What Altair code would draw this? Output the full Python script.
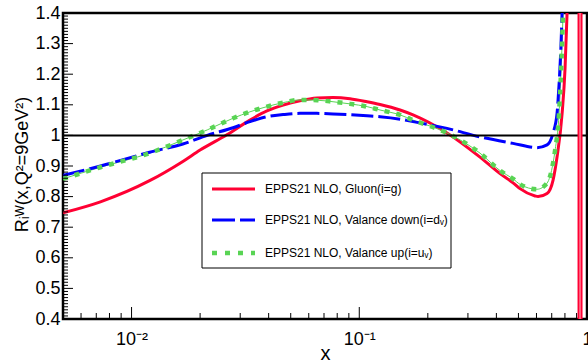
import altair as alt
import pandas as pd

# ---------------- data ----------------
gluon_x = [0.005, 0.0073, 0.012, 0.0168, 0.02, 0.0262, 0.0331, 0.0393, 0.0463, 0.0549,
           0.0652, 0.0767, 0.0911, 0.1082, 0.1234, 0.151, 0.1722, 0.2428, 0.339, 0.415,
           0.4735, 0.508, 0.5913, 0.6096, 0.6677, 0.7096, 0.7389, 0.7772, 0.8011, 0.8175, 0.84]
gluon_r = [0.747, 0.783, 0.852, 0.915, 0.952, 1.002, 1.05, 1.08, 1.099, 1.113,
           1.122, 1.124, 1.12, 1.110, 1.101, 1.083, 1.067, 1.008, 0.929, 0.875,
           0.845, 0.826, 0.802, 0.800, 0.810, 0.854, 0.93, 1.07, 1.22, 1.4, 1.75]
gluon_pole_x = [0.932]

dv_x = [0.005, 0.0073, 0.012, 0.0168, 0.0215, 0.0279, 0.0331, 0.0393, 0.0463, 0.0549,
        0.0652, 0.0767, 0.1082, 0.1234, 0.151, 0.1722, 0.2428, 0.339, 0.4735, 0.6035,
        0.6677, 0.7096, 0.7389, 0.7464, 0.7772, 0.80]
dv_r = [0.869, 0.9, 0.945, 0.972, 1.0, 1.025, 1.045, 1.061, 1.068, 1.072,
        1.072, 1.07, 1.064, 1.061, 1.053, 1.045, 1.023, 0.995, 0.974, 0.96,
        0.969, 1.008, 1.073, 1.116, 1.4, 1.8]

uv_x = [0.005, 0.0073, 0.012, 0.0168, 0.0215, 0.0279, 0.0331, 0.0393, 0.0463, 0.0549,
        0.0652, 0.0767, 0.0911, 0.1082, 0.1234, 0.151, 0.1722, 0.2428, 0.339, 0.415,
        0.4735, 0.508, 0.6035, 0.6677, 0.7096, 0.7244, 0.754, 0.785, 0.81]
uv_r = [0.858, 0.896, 0.942, 0.985, 1.018, 1.056, 1.077, 1.094, 1.107, 1.116,
        1.115, 1.110, 1.103, 1.094, 1.083, 1.067, 1.05, 1.008, 0.942, 0.885,
        0.858, 0.840, 0.824, 0.844, 0.91, 0.952, 1.073, 1.4, 1.8]

reference_y = [1.0]

legend_labels = ["EPPS21 NLO, Gluon(i=g)",
                 "EPPS21 NLO, Valance down(i=d\u1d65)",
                 "EPPS21 NLO, Valance up(i=u\u1d65)"]

y_major = [0.4, 0.5, 0.6, 0.7, 0.8, 0.9, 1.0, 1.1, 1.2, 1.3, 1.4]
x_major = [0.01, 0.1, 1.0]
x_tick_labels = ["10\u207b\u00b2", "10\u207b\u00b9", "1"]
x_minor = [m * d for d in (0.001, 0.01, 0.1) for m in range(2, 10) if 0.005 <= m * d < 1]
y_minor = [round(0.4 + 0.01 * k, 2) for k in range(1, 100) if k % 10 != 0]

# ---------------- styling ----------------
W, H = 524, 306
RED, BLUE, GREEN = "#ff0033", "#0000ff", "#59d454"
FONT = "Liberation Sans"

xs = alt.Scale(type="log", domain=[0.005, 1.0], nice=False)
ys = alt.Scale(domain=[0.4, 1.4], nice=False, zero=False)

lbl_expr = ("datum.value < 0.05 ? '%s' : (datum.value < 0.5 ? '%s' : '%s')"
            % tuple(x_tick_labels))

x_axis = alt.Axis(
    values=x_major, labelExpr=lbl_expr, ticks=False, tickSize=0, domain=False, grid=False,
    labelFont=FONT, labelFontSize=18, labelColor="black", labelPadding=25,
    labelBaseline="alphabetic", labelFlush=False, labelOverlap=False,
    title="x", titleFont=FONT, titleFontSize=20, titleFontWeight="normal",
    titleColor="black", titleBaseline="alphabetic", titleY=40, titleX=W / 2)
y_axis = alt.Axis(
    values=y_major, format=".1~f", ticks=False, tickSize=0, domain=False, grid=False,
    labelFont=FONT, labelFontSize=18, labelColor="black", labelPadding=3,
    labelFlush=False, labelOverlap=False,
    title="R\u1d62\u1d42(x,Q\u00b2=9GeV\u00b2)", titleFont=FONT, titleFontSize=18,
    titleFontWeight="normal", titleColor="black", titleAngle=270,
    titleBaseline="alphabetic", titleAlign="center", titleX=-36, titleY=H / 2 - 2)


def X(field="x"):
    return alt.X(f"{field}:Q", scale=xs, axis=x_axis)


def Y(field="r"):
    return alt.Y(f"{field}:Q", scale=ys, axis=y_axis)


df_g = pd.DataFrame({"x": gluon_x, "r": gluon_r})
df_d = pd.DataFrame({"x": dv_x, "r": dv_r})
df_u = pd.DataFrame({"x": uv_x, "r": uv_r})
df_pole = pd.DataFrame({"x": gluon_pole_x})

red = alt.Chart(df_g).mark_line(color=RED, strokeWidth=3, clip=True,
                                interpolate="monotone").encode(x=X(), y=Y())
pole = alt.Chart(df_pole).mark_rule(color=RED, strokeWidth=5, clip=True).encode(
    x=X(), y=alt.value(0), y2=alt.value(H))
pole_c = alt.Chart(df_pole).mark_rule(color="#ff9fb0", strokeWidth=1.2, clip=True).encode(
    x=X(), y=alt.value(0), y2=alt.value(H))

blue = alt.Chart(df_d).mark_line(color=BLUE, strokeWidth=3, strokeDash=[22, 5], clip=True,
                                 interpolate="monotone").encode(x=X(), y=Y())
green_thin = alt.Chart(df_u).mark_line(color=GREEN, strokeWidth=1, clip=True,
                                       interpolate="monotone").encode(x=X(), y=Y())
green = alt.Chart(df_u).mark_line(color=GREEN, strokeWidth=4.5, strokeDash=[5, 7], clip=True,
                                  interpolate="monotone").encode(x=X(), y=Y())

ref = alt.Chart(pd.DataFrame({"r": reference_y})).mark_rule(
    color="black", strokeWidth=2).encode(y=Y(), x=alt.value(0), x2=alt.value(W))

# inward ticks
ymaj = alt.Chart(pd.DataFrame({"r": y_major})).mark_rule(color="black", strokeWidth=1).encode(
    y=Y(), x=alt.value(0), x2=alt.value(10))
ymin = alt.Chart(pd.DataFrame({"r": y_minor})).mark_rule(color="black", strokeWidth=1).encode(
    y=Y(), x=alt.value(0), x2=alt.value(5))
xmaj = alt.Chart(pd.DataFrame({"x": x_major})).mark_rule(color="black", strokeWidth=1).encode(
    x=X(), y=alt.value(H), y2=alt.value(H - 12))
xmin = alt.Chart(pd.DataFrame({"x": x_minor})).mark_rule(color="black", strokeWidth=1).encode(
    x=X(), y=alt.value(H), y2=alt.value(H - 6))

# legend box (drawn by hand, ROOT TLegend style)
one = alt.Data(values=[{"k": 0}])
box = alt.Chart(one).mark_rect(fill="white", stroke="black", strokeWidth=1).encode(
    x=alt.value(139), x2=alt.value(388), y=alt.value(160), y2=alt.value(255))
leg_y = [176, 207, 240]
leg_style = [dict(color=RED, strokeWidth=3),
             dict(color=BLUE, strokeWidth=3, strokeDash=[23, 5]),
             dict(color=GREEN, strokeWidth=4.5, strokeDash=[5, 8])]
leg_layers = []
for lab, yy, st in zip(legend_labels, leg_y, leg_style):
    leg_layers.append(alt.Chart(one).mark_rule(**st).encode(
        x=alt.value(149), x2=alt.value(192), y=alt.value(yy)))
    leg_layers.append(alt.Chart(one).mark_text(
        text=lab, align="left", baseline="middle", font=FONT, fontSize=12,
        color="black").encode(x=alt.value(202), y=alt.value(yy)))

chart = alt.layer(
    red, green_thin, blue, green, ref, pole, pole_c,
    ymaj, ymin, xmaj, xmin, box, *leg_layers
).properties(
    width=W, height=H, background="white",
    autosize=alt.AutoSizeParams(type="none"),
    padding={"left": 63, "top": 13, "right": 1, "bottom": 44},
).configure_view(
    stroke="black", strokeWidth=2.5
)

chart.save("out.html", embed_options={"renderer": "svg", "actions": False})
